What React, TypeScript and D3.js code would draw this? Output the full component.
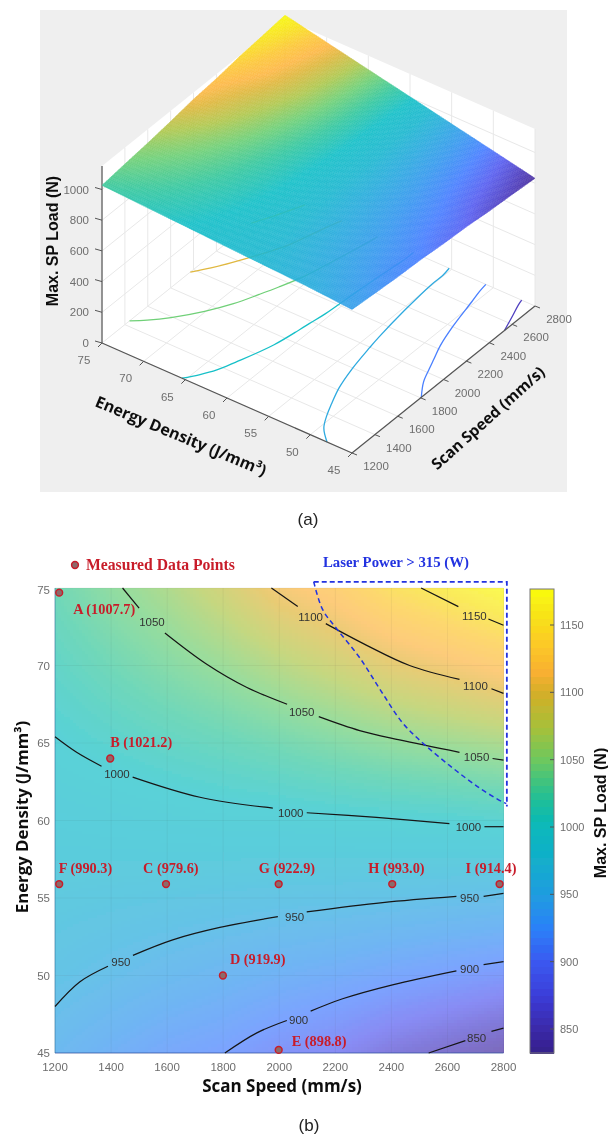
import React from "react";
import * as d3 from "d3";

// surface grid: rows follow gridDensities, columns follow gridSpeeds
const gridSpeeds = [1200, 1400, 1600, 1800, 2000, 2200, 2400, 2600, 2800];
const gridDensities = [45, 50, 55, 60, 65, 70, 75];
const loadAt45 = [935, 921, 908, 900, 885, 875, 858, 846, 832];
const loadAt50 = [956, 947, 938, 930, 922, 915, 906, 898, 890];
const loadAt55 = [970, 967, 964, 961, 958, 956, 953, 950, 947];
const loadAt60 = [984, 987, 990, 993, 994, 997, 999, 1001, 1005];
const loadAt65 = [999, 1007, 1015, 1022, 1030, 1039, 1048, 1055, 1062];
const loadAt70 = [1013, 1027, 1040, 1053, 1068, 1082, 1097, 1108, 1120];
const loadAt75 = [1027, 1046, 1063, 1084, 1109, 1123, 1146, 1161, 1178];
const loadRows = [loadAt45, loadAt50, loadAt55, loadAt60, loadAt65, loadAt70, loadAt75];

const speedTicks = [1200, 1400, 1600, 1800, 2000, 2200, 2400, 2600, 2800];
const densityTicks = [75, 70, 65, 60, 55, 50, 45];
const loadTicks = [0, 200, 400, 600, 800, 1000];
const colorbarTicks = [850, 900, 950, 1000, 1050, 1100, 1150];

// parula-like colour bar; the surfaces are drawn a bit brighter than the bar
const colorStops = [832, 850, 875, 900, 925, 950, 975, 1000, 1025, 1050, 1075, 1100, 1115, 1135, 1155, 1177];
const barColors = ["#35218a", "#3a28a8", "#3b3dd8", "#3a58f0", "#2a80f8", "#1f9ce0", "#12aecb", "#08b8bc", "#28c090", "#6cc860", "#a8c038", "#d4ae28", "#f8b030", "#fcc828", "#f8e018", "#f9fb0e"];
const surfaceColors = ["#4a30a0", "#5040c0", "#5a60f0", "#4a80ff", "#3a98f0", "#2eaae0", "#20b8d0", "#18c0c8", "#38c8a0", "#70d078", "#b0c850", "#e0b840", "#fdb848", "#fcc838", "#f8e020", "#f8f810"];

type Pt = [number, number];

// contour pieces as [speed, density]; the breaks are where the labels sit
const contour850: Pt[][] = [
  [[2533, 45], [2664, 45.8]],
  [[2757, 46.4], [2800, 46.6]],
];
const contour900: Pt[][] = [
  [[1806, 45], [1920, 46.3], [2027, 47.1]],
  [[2112, 47.7], [2226, 48.5], [2404, 49.4], [2632, 50.3]],
  [[2729, 50.7], [2800, 50.9]],
];
const contour950: Pt[][] = [
  [[1200, 48], [1289, 49.6], [1389, 50.6]],
  [[1478, 51.3], [1620, 52.3], [1788, 53.1], [1995, 53.8]],
  [[2098, 54.1], [2369, 54.7], [2632, 55.1]],
  [[2729, 55.1], [2800, 55.3]],
];
const contour1000: Pt[][] = [
  [[1200, 65.4], [1277, 64.4], [1366, 63.5]],
  [[1477, 62.8], [1717, 61.5], [1977, 60.8]],
  [[2098, 60.5], [2347, 60.2], [2607, 59.8]],
  [[2732, 59.6], [2800, 59.6]],
];
const contour1050: Pt[][] = [
  [[1441, 75], [1500, 73.7]],
  [[1592, 72.1], [1740, 70.1], [1883, 68.6], [2028, 67.5]],
  [[2141, 66.7], [2287, 65.8], [2429, 65.2], [2643, 64.4]],
  [[2761, 64], [2800, 63.9]],
];
const contour1100: Pt[][] = [
  [[1972, 75], [2066, 73.8]],
  [[2166, 72.7], [2312, 71.3], [2465, 70], [2643, 69.1]],
  [[2757, 68.5], [2800, 68.2]],
];
const contour1150: Pt[][] = [
  [[2506, 75], [2639, 73.8]],
  [[2746, 73], [2800, 72.6]],
];
const contourLevels = [850, 900, 950, 1000, 1050, 1100, 1150];
const contourPieces = [contour850, contour900, contour950, contour1000, contour1050, contour1100, contour1150];

const contourLabelText = ["1050", "1050", "1050", "1100", "1100", "1150", "1000", "1000", "1000", "950", "950", "950", "900", "900", "850"];
const contourLabelSpeed = [1546, 2080, 2704, 2112, 2700, 2696, 1421, 2041, 2675, 1435, 2055, 2679, 2069, 2679, 2704];
const contourLabelDensity = [72.8, 67, 64.1, 73.1, 68.7, 73.2, 63, 60.5, 59.6, 50.9, 53.8, 55, 47.1, 50.4, 46];

// measured points
const pointNames = ["A", "B", "C", "D", "E", "F", "G", "H", "I"];
const pointLoads = ["1007.7", "1021.2", "979.6", "919.9", "898.8", "990.3", "922.9", "993.0", "914.4"];
const pointSpeeds = [1215, 1397, 1596, 1799, 1998, 1215, 1998, 2403, 2786];
const pointDensities = [74.7, 64, 55.9, 50, 45.2, 55.9, 55.9, 55.9, 55.9];

// laser power limit
const laserSpeeds = [2123, 2155, 2208, 2287, 2365, 2440, 2518, 2618, 2714, 2796, 2810];
const laserDensities = [75.4, 73.6, 72.3, 70.5, 68.3, 66.3, 64.9, 63.4, 62.1, 61.2, 61.1];
const laserBoxSpeeds = [2123, 2812];
const laserBoxDensities = [75.4, 60.9];

const SANS = "'Liberation Sans', Arial, sans-serif";
const SERIF = "'Liberation Serif', 'Times New Roman', serif";
const TITLE = "'Open Sans', sans-serif";
const RED = "#c81e2a";
const BLUE = "#2233e0";
const GRAY = "#6e6e6e";

const barColor = d3.scaleLinear<string>().domain(colorStops).range(barColors).clamp(true);
const color = d3.scaleLinear<string>().domain(colorStops).range(surfaceColors).clamp(true);

// bilinear lookup in the grid
function loadAt(speed: number, density: number) {
  const i = Math.min(Math.floor((speed - 1200) / 200), gridSpeeds.length - 2);
  const j = Math.min(Math.floor((density - 45) / 5), gridDensities.length - 2);
  const u = (speed - gridSpeeds[i]) / 200;
  const v = (density - gridDensities[j]) / 5;
  const low = d3.interpolateNumber(loadRows[j][i], loadRows[j][i + 1])(u);
  const high = d3.interpolateNumber(loadRows[j + 1][i], loadRows[j + 1][i + 1])(u);
  return d3.interpolateNumber(low, high)(v);
}

// ---- panel (a), a fixed MATLAB view
const speedDX = d3.scaleLinear().domain([1200, 2800]).range([0, 183]);
const speedDY = d3.scaleLinear().domain([1200, 2800]).range([0, -147]);
const densX = d3.scaleLinear().domain([75, 45]).range([102, 352]);
const densY = d3.scaleLinear().domain([75, 45]).range([343, 453]);
const loadDY = d3.scaleLinear().domain([0, 1000]).range([0, -153.5]);
const WALL_TOP = 1153;

function project(speed: number, density: number, load = 0): Pt {
  return [speedDX(speed) + densX(density), speedDY(speed) + densY(density) + loadDY(load)];
}
const polyPath = (pts: Pt[]) => "M" + pts.map((p) => p.join(",")).join("L") + "Z";
const floorLine = d3.line<Pt>().curve(d3.curveCatmullRom);

function Panel3D() {
  const mesh = 120;
  const meshSpeeds = d3.range(0, mesh).map((i) => 1200 + (i * 1600) / mesh);
  const meshDensities = d3.range(0, mesh).map((i) => 45 + (i * 30) / mesh);
  const ds = 1600 / mesh;
  const de = 30 / mesh;
  const gridStroke = "#e8e8e8";
  const axisStroke = "#555";
  const line = (a: Pt, b: Pt, stroke: string, key: string, w = 1) => (
    <line key={key} x1={a[0]} y1={a[1]} x2={b[0]} y2={b[1]} stroke={stroke} strokeWidth={w} />
  );
  return (
    <g>
      <rect x={40} y={10} width={527} height={482} fill="#efefef" />
      {/* floor and the two back walls */}
      <path d={polyPath([project(1200, 75), project(1200, 45), project(2800, 45), project(2800, 75)])} fill="#fff" />
      <path d={polyPath([project(1200, 75), project(2800, 75), project(2800, 75, WALL_TOP), project(1200, 75, WALL_TOP)])} fill="#fff" />
      <path d={polyPath([project(2800, 75), project(2800, 45), project(2800, 45, WALL_TOP), project(2800, 75, WALL_TOP)])} fill="#fff" />
      {speedTicks.map((s) => (
        <g key={s}>
          {line(project(s, 75), project(s, 45), gridStroke, "f")}
          {line(project(s, 75), project(s, 75, WALL_TOP), gridStroke, "w")}
        </g>
      ))}
      {densityTicks.map((e) => (
        <g key={e}>
          {line(project(1200, e), project(2800, e), gridStroke, "f")}
          {line(project(2800, e), project(2800, e, WALL_TOP), gridStroke, "w")}
        </g>
      ))}
      {loadTicks.slice(1).map((z) => (
        <g key={z}>
          {line(project(1200, 75, z), project(2800, 75, z), gridStroke, "l")}
          {line(project(2800, 75, z), project(2800, 45, z), gridStroke, "r")}
        </g>
      ))}

      {/* contours on the floor */}
      {contourPieces.map((pieces, i) => (
        <path
          key={contourLevels[i]}
          d={floorLine(pieces.flat().map((p) => project(p[0], p[1]))) as string}
          fill="none"
          stroke={color(contourLevels[i])}
          strokeWidth={1.3}
        />
      ))}

      {/* axes */}
      {line(project(1200, 75), project(1200, 75, WALL_TOP), axisStroke, "za", 1.2)}
      {line(project(1200, 75), project(1200, 45), axisStroke, "ea", 1.2)}
      {line(project(1200, 45), project(2800, 45), axisStroke, "sa", 1.2)}
      {loadTicks.map((z) => {
        const [x, y] = project(1200, 75, z);
        return (
          <g key={z}>
            <line x1={x} y1={y} x2={x - 7} y2={y - 2} stroke={axisStroke} />
            <text x={x - 13} y={y} dy="0.35em" textAnchor="end" fontFamily={SANS} fontSize={11.5} fill={GRAY}>
              {z}
            </text>
          </g>
        );
      })}
      {densityTicks.map((e) => {
        const [x, y] = project(1200, e);
        return (
          <g key={e}>
            <line x1={x} y1={y} x2={x - 4} y2={y + 4} stroke={axisStroke} />
            <text x={x - 18} y={y + 17} dy="0.35em" textAnchor="middle" fontFamily={SANS} fontSize={11.5} fill={GRAY}>
              {e}
            </text>
          </g>
        );
      })}
      {speedTicks.map((s) => {
        const [x, y] = project(s, 45);
        return (
          <g key={s}>
            <line x1={x} y1={y} x2={x + 5} y2={y + 2} stroke={axisStroke} />
            <text x={x + 24} y={y + 13} dy="0.35em" textAnchor="middle" fontFamily={SANS} fontSize={11.5} fill={GRAY}>
              {s}
            </text>
          </g>
        );
      })}

      {/* the surface is slightly see-through, the grid shows under it */}
      <g opacity={0.95}>
        {meshSpeeds.map((s) =>
          meshDensities.map((e) => {
            const c = color(loadAt(s + ds / 2, e + de / 2));
            const d = polyPath([
              project(s, e, loadAt(s, e)),
              project(s + ds, e, loadAt(Math.min(s + ds, 2800), e)),
              project(s + ds, e + de, loadAt(Math.min(s + ds, 2800), Math.min(e + de, 75))),
              project(s, e + de, loadAt(s, Math.min(e + de, 75))),
            ]);
            return <path key={s + "-" + e} d={d} fill={c} stroke={c} strokeWidth={0.5} />;
          })
        )}
      </g>

      <text transform="translate(57.5,241) rotate(-90)" textAnchor="middle" fontFamily={SANS} fontWeight="bold" fontSize={16} fill="#111">
        Max. SP Load (N)
      </text>
      <text transform="translate(181,436) rotate(22.6)" dy="0.35em" textAnchor="middle" fontFamily={TITLE} fontWeight="bold" fontSize={16} fill="#111">
        Energy Density (J/mm³)
      </text>
      <text transform="translate(488,418) rotate(-41.8)" dy="0.35em" textAnchor="middle" fontFamily={TITLE} fontWeight="bold" fontSize={15.5} fill="#111">
        Scan Speed (mm/s)
      </text>
      <text x={308} y={525} textAnchor="middle" fontFamily={SANS} fontSize={17} fill="#222">
        (a)
      </text>
    </g>
  );
}

// ---- panel (b)
const x = d3.scaleLinear().domain([1200, 2800]).range([55, 503.5]);
const y = d3.scaleLinear().domain([45, 75]).range([1053, 588]);
const barY = d3.scaleLinear().domain([850, 1150]).range([1029, 625]);
const contourLine = d3
  .line<Pt>()
  .x((d) => x(d[0]))
  .y((d) => y(d[1]))
  .curve(d3.curveCatmullRom);

// label anchors relative to each point
const labelDx = [14, 0, -23, 7, 13, -0.5, -20, -24, -34];
const labelDy = [16, -17, -16, -17, -9, -16, -16, -16, -16];

function Panel2D() {
  const cell = 3;
  const cols = d3.range(55, 503, cell);
  const rows = d3.range(588, 1053, cell);
  const barBands = 64;
  const barStep = (1177 - 832) / barBands;
  const barSteps = d3.range(0, barBands).map((i) => 832 + i * barStep);
  const boxPath = d3.line()([
    [x(laserBoxSpeeds[0]), y(laserBoxDensities[0])],
    [x(laserBoxSpeeds[1]), y(laserBoxDensities[0])],
    [x(laserBoxSpeeds[1]), y(laserBoxDensities[1])],
  ]) as string;
  const laserPath = d3.line<number>()
    .x((s) => x(s))
    .y((_, i) => y(laserDensities[i]))
    .curve(d3.curveCatmullRom)(laserSpeeds) as string;

  return (
    <g>
      <g opacity={0.72} shapeRendering="crispEdges">
        {cols.map((px) =>
          rows.map((py) => (
            <rect
              key={px + "-" + py}
              x={px}
              y={py}
              width={Math.min(cell, 503.5 - px)}
              height={Math.min(cell, 1053 - py)}
              fill={color(loadAt(x.invert(px + cell / 2), y.invert(py + cell / 2)))}
            />
          ))
        )}
      </g>
      {speedTicks.map((s) => (
        <line key={s} x1={x(s)} x2={x(s)} y1={588} y2={1053} stroke="#333" strokeOpacity={0.06} />
      ))}
      {densityTicks.map((e) => (
        <line key={e} x1={55} x2={503.5} y1={y(e)} y2={y(e)} stroke="#333" strokeOpacity={0.06} />
      ))}
      <line x1={55} x2={55} y1={588} y2={1053} stroke="#2a6f9c" strokeOpacity={0.55} />
      <line x1={55} x2={503.5} y1={1053} y2={1053} stroke="#2a4fa0" strokeOpacity={0.7} />

      {contourPieces.map((pieces, i) =>
        pieces.map((piece, j) => (
          <path key={contourLevels[i] + "-" + j} d={contourLine(piece) as string} fill="none" stroke="#161616" strokeWidth={1.2} />
        ))
      )}
      {contourLabelText.map((t, i) => (
        <text
          key={i}
          x={x(contourLabelSpeed[i])}
          y={y(contourLabelDensity[i])}
          dy="0.35em"
          textAnchor="middle"
          fontFamily={SANS}
          fontSize={11.5}
          fill="#333"
        >
          {t}
        </text>
      ))}

      {speedTicks.map((s) => (
        <text key={s} x={x(s)} y={1067} dy="0.35em" textAnchor="middle" fontFamily={SANS} fontSize={11.5} fill={GRAY}>
          {s}
        </text>
      ))}
      {densityTicks.map((e) => (
        <text key={e} x={50} y={y(e) + (e === 75 ? 2 : 0)} dy="0.35em" textAnchor="end" fontFamily={SANS} fontSize={11.5} fill={GRAY}>
          {e}
        </text>
      ))}
      <text x={282} y={1086} dy="0.35em" textAnchor="middle" fontFamily={TITLE} fontWeight="bold" fontSize={17} fill="#111">
        Scan Speed (mm/s)
      </text>
      <text transform="translate(22,817) rotate(-90)" dy="0.35em" textAnchor="middle" fontFamily={TITLE} fontWeight="bold" fontSize={16.8} fill="#111">
        Energy Density (J/mm³)
      </text>

      {/* laser power region */}
      <path d={boxPath} fill="none" stroke={BLUE} strokeWidth={1.8} strokeDasharray="5 3" />
      <path d={laserPath} fill="none" stroke={BLUE} strokeWidth={1.5} strokeDasharray="5 3.5" />
      <text x={323} y={562} dy="0.35em" fontFamily={SERIF} fontWeight="bold" fontSize={14.8} fill={BLUE}>
        Laser Power &gt; 315 (W)
      </text>

      {/* measured points */}
      {pointNames.map((n, i) => (
        <g key={n}>
          <circle cx={x(pointSpeeds[i])} cy={y(pointDensities[i])} r={3.4} fill="#8c6a6a" stroke={RED} strokeWidth={1.5} />
          <text
            x={x(pointSpeeds[i]) + labelDx[i]}
            y={y(pointDensities[i]) + labelDy[i]}
            dy="0.35em"
            fontFamily={SERIF}
            fontWeight="bold"
            fontSize={14.3}
            fill={RED}
          >
            {n} ({pointLoads[i]})
          </text>
        </g>
      ))}
      <circle cx={75} cy={565} r={3.4} fill="#8c6a6a" stroke={RED} strokeWidth={1.5} />
      <text x={86} y={565} dy="0.35em" fontFamily={SERIF} fontWeight="bold" fontSize={15.7} fill={RED}>
        Measured Data Points
      </text>

      {/* colour bar */}
      <g shapeRendering="crispEdges">
        {barSteps.map((v, i) => (
          <rect
            key={i}
            x={530}
            width={24}
            y={barY(v + barStep)}
            height={barY(v) - barY(v + barStep) + 1}
            fill={barColor(v + barStep / 2)}
          />
        ))}
      </g>
      <rect x={530} y={589} width={24} height={464} fill="none" stroke="#777" />
      {colorbarTicks.map((v) => (
        <g key={v}>
          <line x1={550} x2={554} y1={barY(v)} y2={barY(v)} stroke="#555" />
          <text x={560} y={barY(v)} dy="0.35em" fontFamily={SANS} fontSize={11} fill={GRAY}>
            {v}
          </text>
        </g>
      ))}
      <text transform="translate(600,813) rotate(-90)" dy="0.35em" textAnchor="middle" fontFamily={SANS} fontWeight="bold" fontSize={16} fill="#111">
        Max. SP Load (N)
      </text>
      <text x={309} y={1131} textAnchor="middle" fontFamily={SANS} fontSize={17} fill="#222">
        (b)
      </text>
    </g>
  );
}

export default function App() {
  return (
    <svg width={608} height={1135} style={{ position: "absolute", left: 0, top: 0, background: "#fff" }}>
      {/* the source figure is a soft, resampled scan */}
      <defs>
        <filter id="soft" x="0" y="0" width="100%" height="100%">
          <feGaussianBlur stdDeviation={0.4} />
        </filter>
      </defs>
      <g filter="url(#soft)">
        <Panel3D />
        <Panel2D />
      </g>
    </svg>
  );
}
